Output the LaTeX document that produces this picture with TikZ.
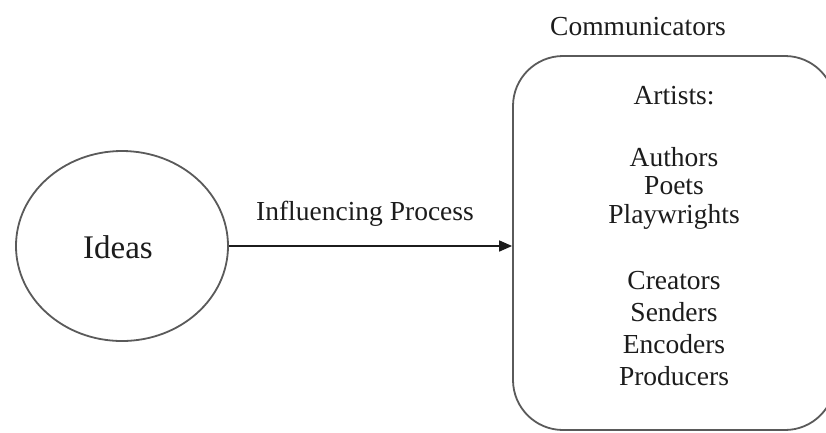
\documentclass[tikz,border=0pt]{standalone}
\usepackage{fontspec}
\setmainfont{Liberation Serif}
\usetikzlibrary{shapes.geometric,arrows.meta}
\definecolor{linegray}{HTML}{5A5A5A}
\definecolor{inkdark}{HTML}{1C1C1C}
\tikzset{
  txt/.style={anchor=base, inner sep=0pt, text=inkdark, font=\fontsize{27.5}{30}\selectfont},
  bigtxt/.style={anchor=base, inner sep=0pt, text=inkdark, font=\fontsize{33}{36}\selectfont},
  outline/.style={draw=linegray, line width=1.8pt},
  flow/.style={draw=inkdark, line width=1.6pt, -{Triangle[length=13pt,width=11pt]}}
}
\begin{document}
\begin{tikzpicture}[x=1pt,y=-1pt]
  \useasboundingbox (0,0) rectangle (826,432);
  \clip (0,0) rectangle (826,432);
  \fill[white] (0,0) rectangle (826,432);

  % idea bubble
  \node[ellipse, outline, minimum width=212pt, minimum height=190pt, inner sep=0pt] (idea) at (122,246) {};
  \node[bigtxt] (ideaLabel) at (118,258) {Ideas};

  % communicator panel (runs past the right and bottom edges)
  \node[rectangle, rounded corners=50pt, outline, minimum width=322pt, minimum height=374pt, inner sep=0pt] (panel) at (674,243) {};

  % connector
  \draw[flow] (idea.east) -- (idea.east -| panel.west);
  \node[txt] (procLabel) at (365,220) {Influencing Process};

  % heading
  \node[txt] (heading) at (638,35) {Communicators};

  % panel contents
  \node[txt] (l1) at (674,104) {Artists:};
  \node[txt] (l2) at (674,166) {Authors};
  \node[txt] (l3) at (674,194) {Poets};
  \node[txt] (l4) at (674,223) {Playwrights};
  \node[txt] (l5) at (674,289) {Creators};
  \node[txt] (l6) at (674,321) {Senders};
  \node[txt] (l7) at (674,353) {Encoders};
  \node[txt] (l8) at (674,385) {Producers};
\end{tikzpicture}
\end{document}
